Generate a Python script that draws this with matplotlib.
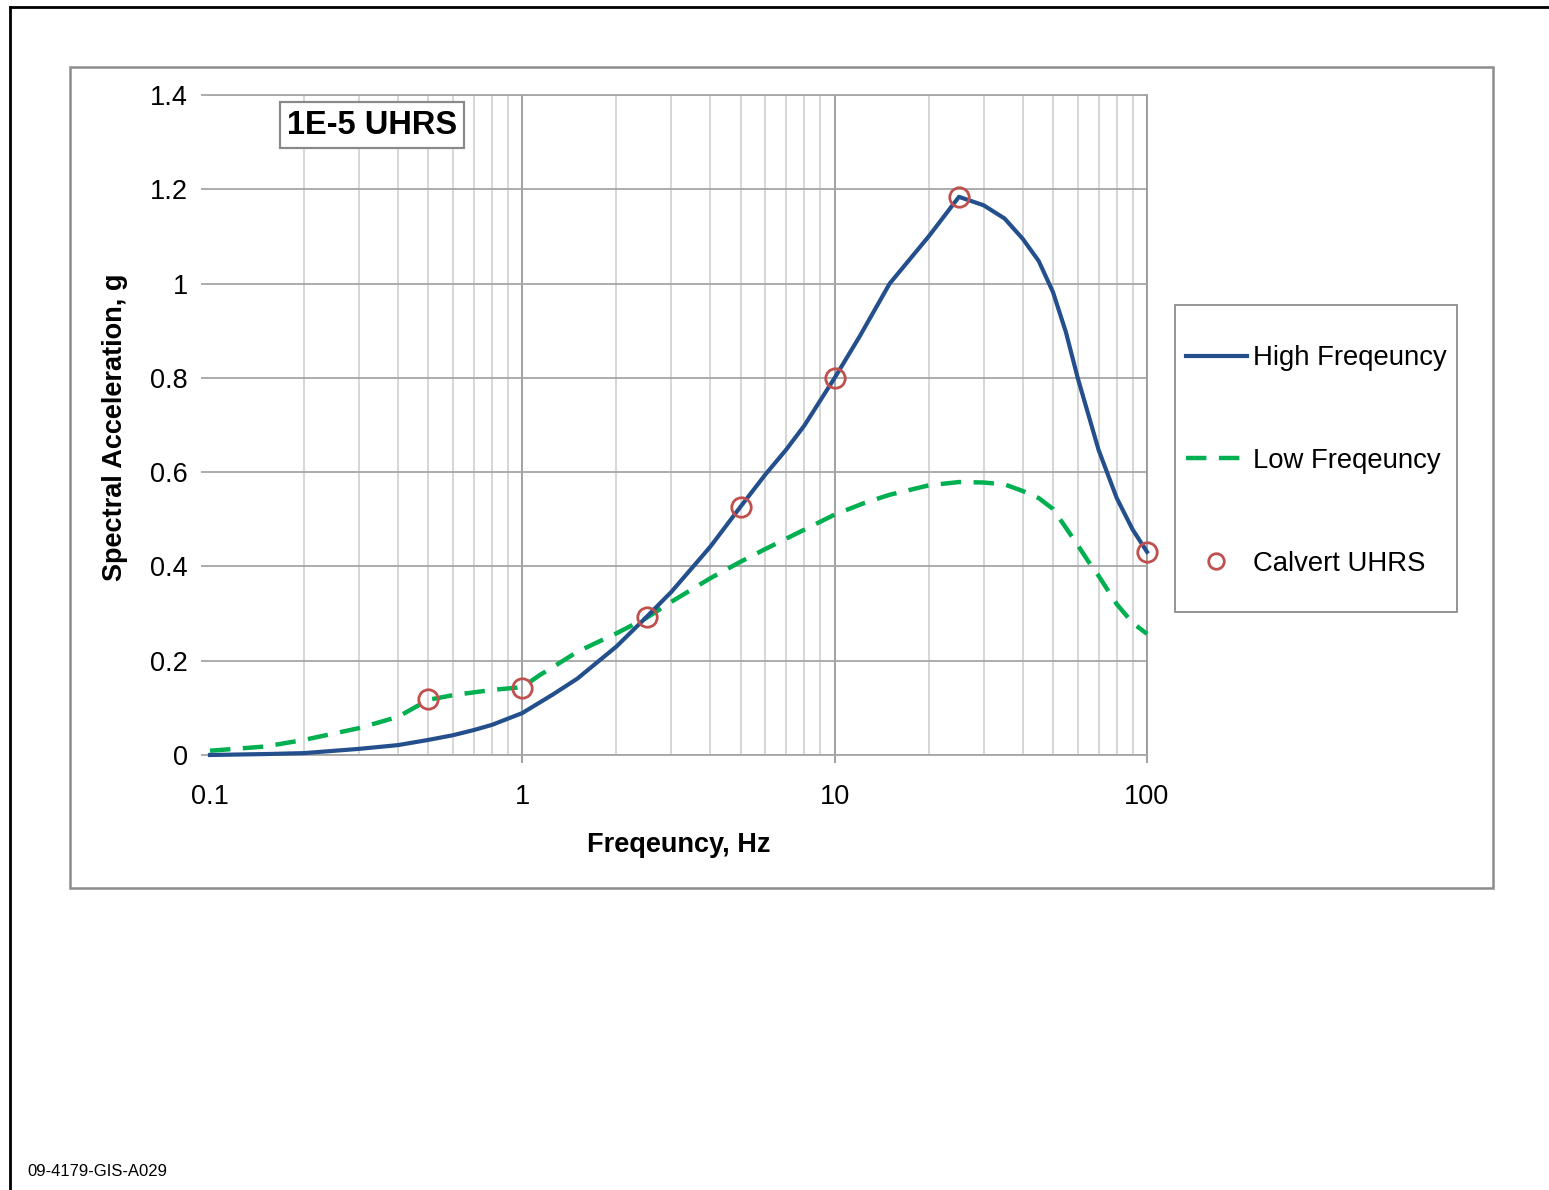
import numpy as np
import matplotlib
matplotlib.use('Agg')
import matplotlib.pyplot as plt
from matplotlib.patches import Rectangle
from matplotlib.lines import Line2D

plt.rcParams['font.family'] = ['Liberation Sans', 'DejaVu Sans']

# high frequency UHRS
hfFreq = [0.1, 0.15, 0.2, 0.3, 0.4, 0.5, 0.6, 0.7, 0.8, 1.0, 1.25, 1.5, 2.0, 2.5, 3.0, 4.0,
          5.0, 6.0, 7.0, 8.0, 10, 12, 15, 20, 25, 30, 35, 40, 45, 50, 55, 60, 70, 80, 90, 100]
hfSa = [0.0, 0.002, 0.004, 0.013, 0.021, 0.032, 0.042, 0.053, 0.064, 0.089, 0.128, 0.162, 0.230,
        0.293, 0.346, 0.442, 0.527, 0.595, 0.648, 0.699, 0.800, 0.887, 1.000, 1.100, 1.184, 1.166,
        1.138, 1.095, 1.048, 0.982, 0.897, 0.800, 0.647, 0.545, 0.478, 0.431]

# low frequency UHRS
lfFreq = [0.1, 0.15, 0.2, 0.3, 0.4, 0.5, 0.6, 0.8, 1.0, 1.14, 1.25, 1.5, 2.0, 2.5, 3.0, 4.0,
          5.0, 6.0, 8.0, 10, 12.5, 15, 20, 25, 30, 35, 40, 45, 50, 55, 60, 65, 70, 75, 80, 90, 100]
lfSa = [0.009, 0.018, 0.032, 0.057, 0.081, 0.117, 0.127, 0.138, 0.144, 0.170, 0.186, 0.219,
        0.258, 0.291, 0.325, 0.375, 0.410, 0.437, 0.478, 0.510, 0.535, 0.552, 0.572, 0.579,
        0.578, 0.574, 0.560, 0.545, 0.522, 0.482, 0.445, 0.410, 0.380, 0.349, 0.320, 0.280, 0.257]

# Calvert UHRS points
calvertFreq = [0.5, 1.0, 2.5, 5.0, 10, 25, 100]
calvertSa = [0.119, 0.142, 0.293, 0.526, 0.800, 1.184, 0.431]

yTicks = [0, 0.2, 0.4, 0.6, 0.8, 1.0, 1.2, 1.4]
yTickLabels = ['0', '0.2', '0.4', '0.6', '0.8', '1', '1.2', '1.4']
xTicks = [0.1, 1, 10, 100]
xTickLabels = ['0.1', '1', '10', '100']

W, H = 1549, 1190
fig = plt.figure(figsize=(W / 100, H / 100), dpi=100)
ax = fig.add_axes([210 / W, 1 - 755 / H, (1147 - 210) / W, (755 - 95) / H])

ax.plot(hfFreq, hfSa, color='#234f8c', lw=3, label='High Freqeuncy', zorder=4,
        solid_joinstyle='round', clip_on=False)
ax.plot(lfFreq, lfSa, color='#00b050', lw=3.2, dashes=(4.6, 2.8), label='Low Freqeuncy',
        zorder=3, clip_on=False)
ax.plot(calvertFreq, calvertSa, ls='none', marker='o', ms=14, mfc='none', mec='#c0504d',
        mew=2, label='Calvert UHRS', zorder=5, clip_on=False)

ax.set_xscale('log')
ax.set_xlim(0.1, 100)
ax.set_ylim(0, 1.4)
ax.set_yticks(yTicks)
ax.set_yticklabels(yTickLabels)
ax.set_xticks(xTicks)
ax.set_xticklabels(xTickLabels)

gridGrey = '#a6a6a6'
ax.grid(which='major', axis='y', color=gridGrey, lw=1.3)
ax.grid(which='major', axis='x', color='#9a9a9a', lw=1.3)
ax.grid(which='minor', axis='x', color='#d0d0d0', lw=1.2)
ax.tick_params(axis='y', length=6.5, width=1.3, color=gridGrey, pad=9.5, labelsize=19.5)
ax.tick_params(axis='x', which='major', length=6, width=1.3, color='#9a9a9a', pad=15, labelsize=19.5)
ax.tick_params(axis='x', which='minor', length=0)
# no gridline or tick mark on the 0.1 edge
firstTick = ax.xaxis.get_major_ticks()[0]
firstTick.gridline.set_visible(False)
firstTick.tick1line.set_visible(False)
ax.spines['left'].set_visible(False)
for side in ['bottom', 'top']:
    ax.spines[side].set_color(gridGrey)
    ax.spines[side].set_linewidth(1.3)
ax.spines['right'].set_color('#9a9a9a')
ax.spines['right'].set_linewidth(1.3)
ax.set_axisbelow(True)

fig.text(115 / W, 1 - 427 / H, 'Spectral Acceleration, g', rotation=90, fontsize=19.5,
         fontweight='bold', ha='center', va='center')
fig.text(679 / W, 1 - 845 / H, 'Freqeuncy, Hz', fontsize=19.5, fontweight='bold',
         ha='center', va='center')

fig.text(372 / W, 1 - 125 / H, '1E-5 UHRS', fontsize=23.5, fontweight='bold', ha='center',
         va='center', bbox=dict(boxstyle='square,pad=0.22', fc='white', ec='#8a8a8a', lw=1.6))

leg = ax.legend(loc='center left', bbox_to_anchor=(1186 / W, 1 - 461 / H),
                bbox_transform=fig.transFigure, frameon=False, fontsize=19.8, borderpad=0,
                borderaxespad=0, handlelength=2.2, handletextpad=0.25, labelspacing=2.79,
                markerscale=0.8)
fig.add_artist(Rectangle((1175 / W, 1 - 612 / H), 282 / W, 307 / H, transform=fig.transFigure,
                         fill=False, ec='#8c8c8c', lw=1.3))

# chart area frame and page border
fig.add_artist(Rectangle((70 / W, 1 - 888 / H), 1423 / W, 821 / H, transform=fig.transFigure,
                         fill=False, ec='#8c8c8c', lw=1.8))
fig.add_artist(Line2D([10 / W, 10 / W], [0, 1 - 7 / H], color='black', lw=2))
fig.add_artist(Line2D([10 / W, 1], [1 - 7 / H, 1 - 7 / H], color='black', lw=2))

fig.text(27 / W, 1 - 1171 / H, '09-4179-GIS-A029', fontsize=12, ha='left', va='center')

fig.savefig('out.png', dpi=100)
